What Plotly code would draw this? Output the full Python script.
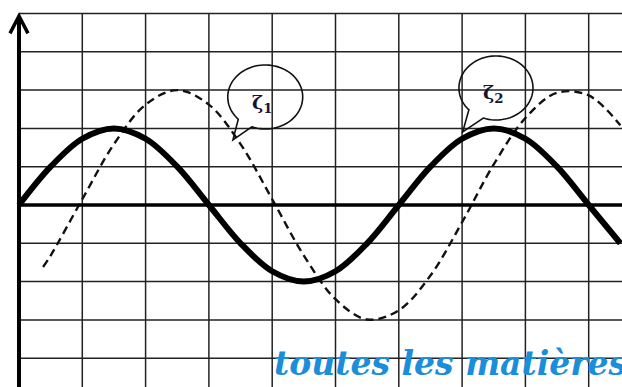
import numpy as np
import plotly.graph_objects as go

# ---- data (grid units) ----
solid_x = [0, 0.5, 1.0, 1.5, 2.0, 2.5, 3.0, 3.5, 4.0, 4.5, 5.0, 5.5, 6.0, 6.5, 7.0, 7.5, 8.0, 8.5, 9.0, 9.5]
solid_y = [0, 1.0, 1.73, 2.0, 1.73, 1.0, 0, -1.0, -1.73, -2.0, -1.73, -1.0, 0, 1.0, 1.73, 2.0, 1.73, 1.0, 0, -1.0]

dashed_x = [0.38, 0.5, 1.0, 1.5, 2.0, 2.5, 3.0, 3.5, 4.0, 4.5, 5.0, 5.5, 6.0, 6.5, 7.0, 7.5, 8.0, 8.5, 9.0, 9.5]
dashed_y = [-1.62, -1.32, 0.15, 1.59, 2.62, 3.0, 2.62, 1.59, 0.15, -1.32, -2.46, -2.99, -2.75, -1.84, -0.45, 1.06, 2.27, 2.93, 2.86, 2.08]

grid_x = [1, 2, 3, 4, 5, 6, 7, 8, 9]
grid_y = [-4, -3, -2, -1, 1, 2, 3, 4, 5]

labels = ["ζ<sub>1</sub>", "ζ<sub>2</sub>"]
watermark = "toutes les matières"

X_RANGE = [-0.30, 9.526]
Y_RANGE = [-4.752, 5.352]

fig = go.Figure()

fig.add_trace(go.Scatter(x=dashed_x, y=dashed_y, mode="lines",
                         line=dict(color="#111111", width=2.4, dash="8px,5px", shape="spline"),
                         hoverinfo="skip"))
fig.add_trace(go.Scatter(x=solid_x, y=solid_y, mode="lines",
                         line=dict(color="#000000", width=6, shape="spline"),
                         hoverinfo="skip"))

shapes = []
for gx in grid_x:
    shapes.append(dict(type="line", x0=gx, x1=gx, y0=Y_RANGE[0], y1=5, layer="below",
                       line=dict(color="#222222", width=1.5)))
for gy in grid_y:
    shapes.append(dict(type="line", x0=0, x1=X_RANGE[1], y0=gy, y1=gy, layer="below",
                       line=dict(color="#222222", width=1.5)))

# axes
shapes.append(dict(type="line", x0=0, x1=X_RANGE[1], y0=0, y1=0,
                   line=dict(color="#000000", width=3.5)))
shapes.append(dict(type="line", x0=0, x1=0, y0=Y_RANGE[0], y1=4.93,
                   line=dict(color="#000000", width=4)))
shapes.append(dict(type="path", path="M -0.142,4.48 L 0,4.935 L 0.142,4.48",
                   line=dict(color="#000000", width=3.5)))


def bubble(cx, cy, rx, ry, tipx, tipy, a0, a1):
    th = np.radians(np.linspace(a1, a0 + 360, 80))
    pts = [(cx + rx * np.cos(t), cy + ry * np.sin(t)) for t in th]
    p = "M " + " L ".join(f"{x:.4f},{y:.4f}" for x, y in pts)
    p += f" L {tipx:.4f},{tipy:.4f} Z"
    return p


shapes.append(dict(type="path", path=bubble(3.89, 2.82, 0.592, 0.836, 3.38, 1.70, 224, 249),
                   line=dict(color="#111111", width=1.6)))
shapes.append(dict(type="path", path=bubble(7.535, 3.055, 0.585, 0.836, 7.01, 1.91, 223, 250),
                   line=dict(color="#111111", width=1.6)))

annotations = [
    dict(x=3.85, y=2.66, text=labels[0], showarrow=False,
         font=dict(family="DejaVu Serif", size=19, color="#141432", weight="bold")),
    dict(x=7.49, y=2.92, text=labels[1], showarrow=False,
         font=dict(family="DejaVu Serif", size=19, color="#141432", weight="bold")),
    dict(x=4.0, y=-4.15, text=watermark, showarrow=False, xanchor="left", yanchor="middle",
         font=dict(family="DejaVu Serif", size=33, color="#1a8ed8", weight="bold", style="italic")),
]

fig.update_layout(
    width=622, height=387,
    margin=dict(l=0, r=0, t=0, b=0),
    paper_bgcolor="white", plot_bgcolor="white",
    showlegend=False,
    xaxis=dict(range=X_RANGE, visible=False, fixedrange=True),
    yaxis=dict(range=Y_RANGE, visible=False, fixedrange=True),
    shapes=shapes,
    annotations=annotations,
)

fig.write_html("out.html", config={"displayModeBar": False},
               post_script="document.body.style.margin='0';document.body.style.overflow='hidden';")
